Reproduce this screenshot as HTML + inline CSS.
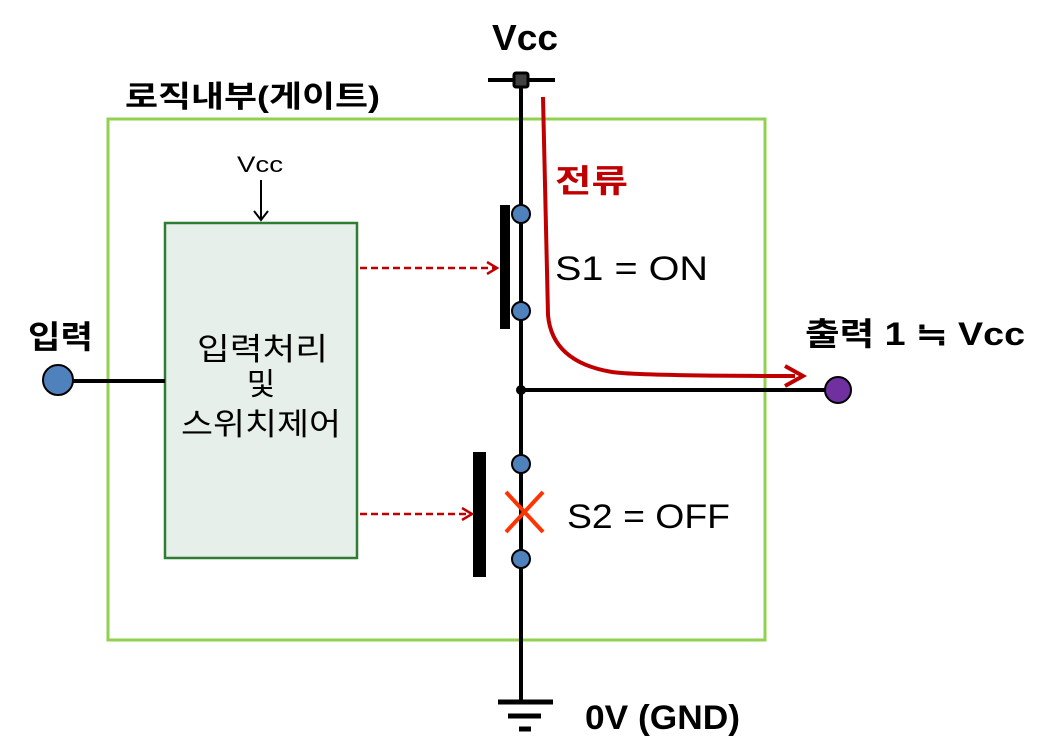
<!DOCTYPE html>
<html><head><meta charset="utf-8"><style>html,body{margin:0;padding:0;background:#fff}svg{display:block}text{font-family:"Liberation Sans","Noto Sans CJK KR",sans-serif}</style></head>
<body>
<svg width="1049" height="747" viewBox="0 0 1049 747" xmlns="http://www.w3.org/2000/svg">
<defs>
<marker id="ar" markerWidth="14" markerHeight="14" refX="11" refY="7" orient="auto" markerUnits="userSpaceOnUse"><path d="M1,1 L11,7 L1,13" fill="none" stroke="#c00000" stroke-width="2.5"/></marker>
</defs>
<rect x="108" y="119" width="657" height="521" fill="none" stroke="#92d050" stroke-width="3"/>
<line x1="521" y1="80" x2="521" y2="702" stroke="#000" stroke-width="4"/>
<line x1="488" y1="80" x2="555" y2="80" stroke="#000" stroke-width="4"/>
<rect x="514" y="73" width="14" height="14" rx="2" fill="#404040" stroke="#000" stroke-width="3"/>
<line x1="498" y1="702" x2="553" y2="702" stroke="#000" stroke-width="5"/>
<line x1="508" y1="716" x2="541" y2="716" stroke="#000" stroke-width="5"/>
<line x1="519" y1="729" x2="531" y2="729" stroke="#000" stroke-width="5"/>
<line x1="521" y1="390" x2="830" y2="390" stroke="#000" stroke-width="4"/>
<circle cx="521" cy="390" r="5" fill="#000"/>
<circle cx="838" cy="390" r="13" fill="#7030a0" stroke="#000" stroke-width="2"/>
<rect x="500" y="205" width="10" height="124" fill="#000"/>
<circle cx="521" cy="214" r="9" fill="#4f81bd" stroke="#000" stroke-width="2"/>
<circle cx="521" cy="311" r="9" fill="#4f81bd" stroke="#000" stroke-width="2"/>
<rect x="473" y="452" width="13" height="125" fill="#000"/>
<circle cx="521" cy="464" r="9" fill="#4f81bd" stroke="#000" stroke-width="2"/>
<circle cx="521" cy="559" r="9" fill="#4f81bd" stroke="#000" stroke-width="2"/>
<path d="M506,492 L543,532 M543,492 L506,532" stroke="#ff3300" stroke-width="4"/>
<path d="M543,97 L548,315 Q552,362 612,372 Q640,376 795,376" fill="none" stroke="#c00000" stroke-width="4"/>
<path d="M785,366 L803,376 L785,386" fill="none" stroke="#c00000" stroke-width="4"/>
<rect x="165" y="223" width="192" height="335" fill="#e6efe9" stroke="#2e7d32" stroke-width="2.5"/>
<line x1="261" y1="180" x2="261" y2="220" stroke="#000" stroke-width="2"/>
<path d="M254,211 L261,220 L268,211" fill="none" stroke="#000" stroke-width="2"/>
<line x1="72" y1="381" x2="165" y2="381" stroke="#000" stroke-width="4"/>
<circle cx="58" cy="380" r="15" fill="#4f81bd" stroke="#000" stroke-width="2"/>
<line x1="360" y1="268" x2="497" y2="268" stroke="#c00000" stroke-width="2.5" stroke-dasharray="7,4" marker-end="url(#ar)"/>
<line x1="360" y1="514" x2="472" y2="514" stroke="#c00000" stroke-width="2.5" stroke-dasharray="7,4" marker-end="url(#ar)"/>
<text x="492" y="50" font-size="36" font-weight="bold" textLength="66" lengthAdjust="spacingAndGlyphs">Vcc</text>
<text x="125" y="107" font-size="30" font-weight="bold" textLength="255" lengthAdjust="spacingAndGlyphs">로직내부(게이트)</text>
<text x="237" y="172" font-size="22" textLength="46" lengthAdjust="spacingAndGlyphs">Vcc</text>
<text x="555" y="192" font-size="32" font-weight="bold" fill="#c00000" textLength="73" lengthAdjust="spacingAndGlyphs">전류</text>
<text x="555" y="280" font-size="34" textLength="153" lengthAdjust="spacingAndGlyphs">S1 = ON</text>
<text x="567" y="528" font-size="34" textLength="163" lengthAdjust="spacingAndGlyphs">S2 = OFF</text>
<text x="805" y="345" font-size="32" font-weight="bold" textLength="220" lengthAdjust="spacingAndGlyphs">출력 1 ≒ Vcc</text>
<text x="28" y="348" font-size="32" font-weight="bold" textLength="65" lengthAdjust="spacingAndGlyphs">입력</text>
<text x="585" y="729" font-size="34" font-weight="bold" textLength="155" lengthAdjust="spacingAndGlyphs">0V (GND)</text>
<text x="197" y="360" font-size="31" textLength="131" lengthAdjust="spacingAndGlyphs">입력처리</text>
<text x="261" y="395" font-size="31" text-anchor="middle">및</text>
<text x="181" y="435" font-size="31" textLength="160" lengthAdjust="spacingAndGlyphs">스위치제어</text>
</svg>
</body></html>
